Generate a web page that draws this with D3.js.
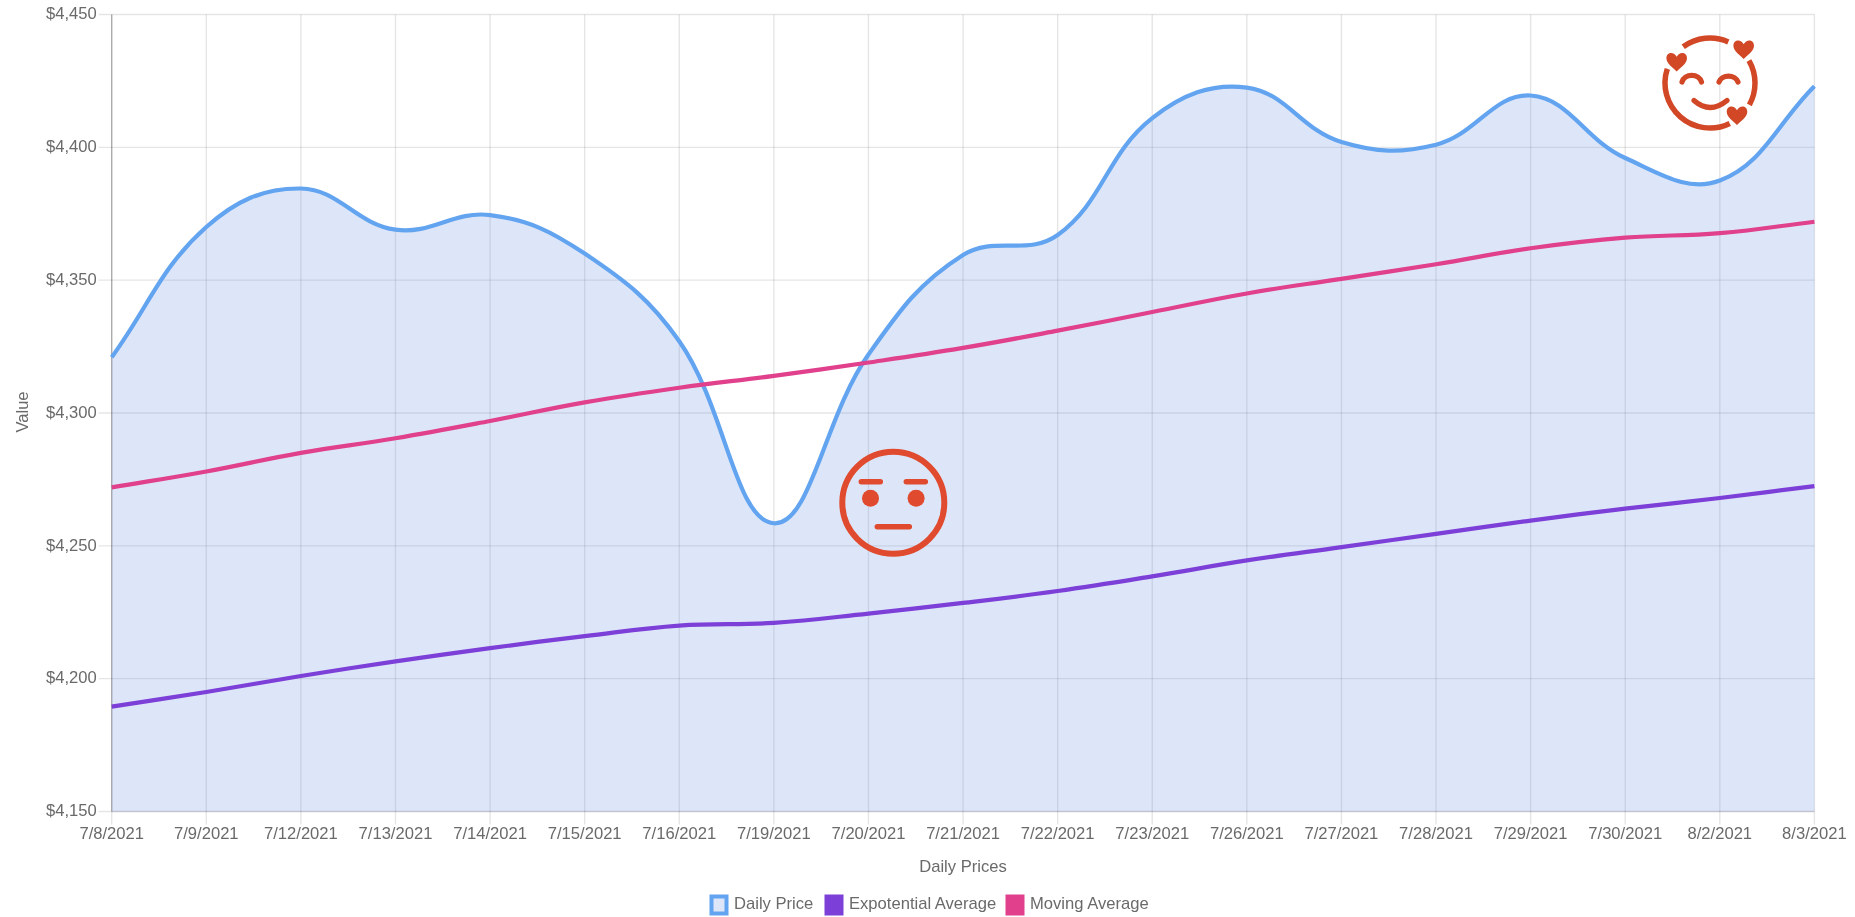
<!DOCTYPE html>
<html><head><meta charset="utf-8">
<script src="https://cdn.jsdelivr.net/npm/d3@7/dist/d3.min.js"></script>
<style>html,body{margin:0;padding:0;background:#fff;overflow:hidden}svg{display:block;filter:blur(0.5px)}text{font-family:"Liberation Sans",Arial,sans-serif}</style>
</head><body><svg id="c" width="1855" height="917"></svg>
<script>
const dates=["7/8/2021","7/9/2021","7/12/2021","7/13/2021","7/14/2021","7/15/2021","7/16/2021","7/19/2021","7/20/2021","7/21/2021","7/22/2021","7/23/2021","7/26/2021","7/27/2021","7/28/2021","7/29/2021","7/30/2021","8/2/2021","8/3/2021"];
const dailyPrice=[4321,4370,4384.5,4369,4374.5,4360,4327,4258.5,4322,4359.5,4367,4411,4422.5,4402,4401,4419.5,4396,4387.5,4423];
const expAverage=[4189.5,4195,4201,4206.5,4211.5,4216,4220,4221,4224.5,4228.5,4233,4238.5,4244.5,4249.5,4254.5,4259.5,4264,4268,4272.5];
const movingAverage=[4272,4278,4285,4290.5,4297,4304,4309.5,4314,4319,4324.5,4331,4338,4345,4350.5,4356,4362,4366,4367.7,4372];
const yTicks=[4150,4200,4250,4300,4350,4400,4450];
const legendItems=[{name:"Daily Price",x:710,stroke:"#63a4f0",fill:"#dde6f9"},{name:"Expotential Average",x:825,stroke:"#7c3fd8",fill:"#7c3fd8"},{name:"Moving Average",x:1006,stroke:"#e0408c",fill:"#e0408c"}];

const L=111.7,R=1814.4,T=14.5,B=811.5;
const x=d3.scalePoint().domain(dates).range([L,R]);
const y=d3.scaleLinear().domain([4150,4450]).range([B,T]);
const svg=d3.select("#c");
const gridC="rgba(0,0,0,0.1)",tickC="#6a6a6a";

function styleAxis(g,fs){
  g.select(".domain").remove();
  g.selectAll("line").attr("stroke",gridC).attr("stroke-width",1.4);
  g.selectAll("text").attr("fill",tickC).attr("font-size",fs).attr("font-family",'"Liberation Sans",Arial,sans-serif');
}
// chart-style tension spline
function spline(context){return new Spline(context,0.4);}
class Spline{
  constructor(c,t){this.c=c;this.t=t;}
  areaStart(){this._line=0;}
  areaEnd(){this._line=NaN;}
  lineStart(){this.p=[];}
  point(a,b){this.p.push([+a,+b]);}
  lineEnd(){
    const p=this.p,n=p.length,c=this.c,t=this.t;
    if(this._line)c.lineTo(p[0][0],p[0][1]);else c.moveTo(p[0][0],p[0][1]);
    const ctl=i=>{
      const a=p[Math.max(i-1,0)],b=p[i],e=p[Math.min(i+1,n-1)];
      const d1=Math.hypot(b[0]-a[0],b[1]-a[1]),d2=Math.hypot(e[0]-b[0],e[1]-b[1]);
      const s=d1+d2||1,f1=t*d1/s,f2=t*d2/s;
      return {pr:[b[0]-f1*(e[0]-a[0]),b[1]-f1*(e[1]-a[1])],nx:[b[0]+f2*(e[0]-a[0]),b[1]+f2*(e[1]-a[1])]};
    };
    for(let i=0;i<n-1;i++){
      const A=ctl(i),C=ctl(i+1);
      c.bezierCurveTo(A.nx[0],A.nx[1],Math.min(C.pr[0],R),C.pr[1],p[i+1][0],p[i+1][1]);
    }
    if(this._line)c.closePath();
    this._line=1-this._line;
  }
}

// axes + grid
svg.append("g").attr("transform",`translate(0,${B})`)
  .call(d3.axisBottom(x).offset(0).tickSize(13).tickSizeOuter(0).tickFormat(d=>d))
  .call(g=>{styleAxis(g,"16.6px");g.selectAll("line").attr("y1",T-B).attr("y2",13);g.selectAll("text").attr("dy","0.36em").attr("y",22);});
svg.append("g").attr("transform",`translate(${L},0)`)
  .call(d3.axisLeft(y).offset(0).tickValues(yTicks).tickSize(13).tickPadding(2).tickFormat(d=>"$"+d3.format(",")(d)))
  .call(g=>{styleAxis(g,"16.6px");g.selectAll("line").attr("x1",-13).attr("x2",R-L);g.selectAll("text").attr("y",-0.5);});
svg.append("line").attr("x1",L).attr("x2",L).attr("y1",T).attr("y2",B).attr("stroke","rgba(0,0,0,0.25)").attr("stroke-width",1.4);
svg.append("line").attr("x1",L).attr("x2",R).attr("y1",B).attr("y2",B).attr("stroke","rgba(0,0,0,0.12)").attr("stroke-width",1.4);

// series
const area=d3.area().x((d,i)=>x(dates[i])).y0(B).y1(d=>y(d)).curve(spline);
const line=d3.line().x((d,i)=>x(dates[i])).y(d=>y(d)).curve(spline);
svg.append("path").datum(dailyPrice).attr("d",area).attr("fill","rgba(85,130,225,0.2)");
[[dailyPrice,"#63a4f0"],[expAverage,"#7c3fd8"],[movingAverage,"#e0408c"]].forEach(([v,c])=>{
  svg.append("path").datum(v).attr("d",line).attr("fill","none").attr("stroke",c).attr("stroke-width",4.2);
});

// axis titles
svg.append("text").attr("x",963).attr("y",872).attr("text-anchor","middle").attr("fill",tickC).attr("font-size","16.6px").text("Daily Prices");
svg.append("text").attr("transform","translate(28,412) rotate(-90)").attr("text-anchor","middle").attr("fill",tickC).attr("font-size","16.6px").text("Value");

// legend
const lg=svg.append("g").selectAll("g").data(legendItems).join("g").attr("transform",d=>`translate(${d.x},0)`);
lg.append("rect").attr("x",1.5).attr("y",896.5).attr("width",15).attr("height",17).attr("fill",d=>d.fill).attr("stroke",d=>d.stroke).attr("stroke-width",4);
lg.append("text").attr("x",24).attr("y",909).attr("fill",tickC).attr("font-size","16.6px").text(d=>d.name);

// neutral face
const nf=svg.append("g").attr("transform","translate(893.3,502.7)").attr("fill","none").attr("stroke","#e04a2e").attr("stroke-linecap","round");
nf.append("circle").attr("r",51).attr("stroke-width",6);
nf.append("path").attr("stroke-width",5.5).attr("d","M-32,-21H-13M13,-21H32M-16,24H16");
[-22.8,22.8].forEach(dx=>nf.append("circle").attr("cx",dx).attr("cy",-4.5).attr("r",8.5).attr("fill","#e04a2e").attr("stroke","none"));

// smiling face with hearts
const red="#d24726";
const sf=svg.append("g").attr("transform","translate(1710,83)").attr("fill","none").attr("stroke",red);
const arc=d3.arc().innerRadius(45).outerRadius(45);
[[-36.5,24],[60,119],[154,288.4]].forEach(([a,b])=>sf.append("path").attr("stroke-width",5.5).attr("stroke-linecap","round").attr("d",arc({startAngle:a*Math.PI/180,endAngle:b*Math.PI/180})));
sf.append("path").attr("stroke-width",5.2).attr("stroke-linecap","round").attr("d","M-28,-1A10,8.5 0 0 1 -8.5,-1M9,-1A10,8.5 0 0 1 28,-1M-16,17.5Q0,31.5 17,17.5");
const heart="M0,9.8C-3,6.5 -10.3,2 -10.3,-3.5C-10.3,-10 -2.5,-10.5 0,-5C2.5,-10.5 10.3,-10 10.3,-3.5C10.3,2 3,6.5 0,9.8Z";
[[-33.3,-21.3],[33.7,-33.7],[27,32.3]].forEach(([a,b])=>sf.append("path").attr("transform",`translate(${a},${b})`).attr("d",heart).attr("fill",red).attr("stroke","none"));
</script></body></html>
